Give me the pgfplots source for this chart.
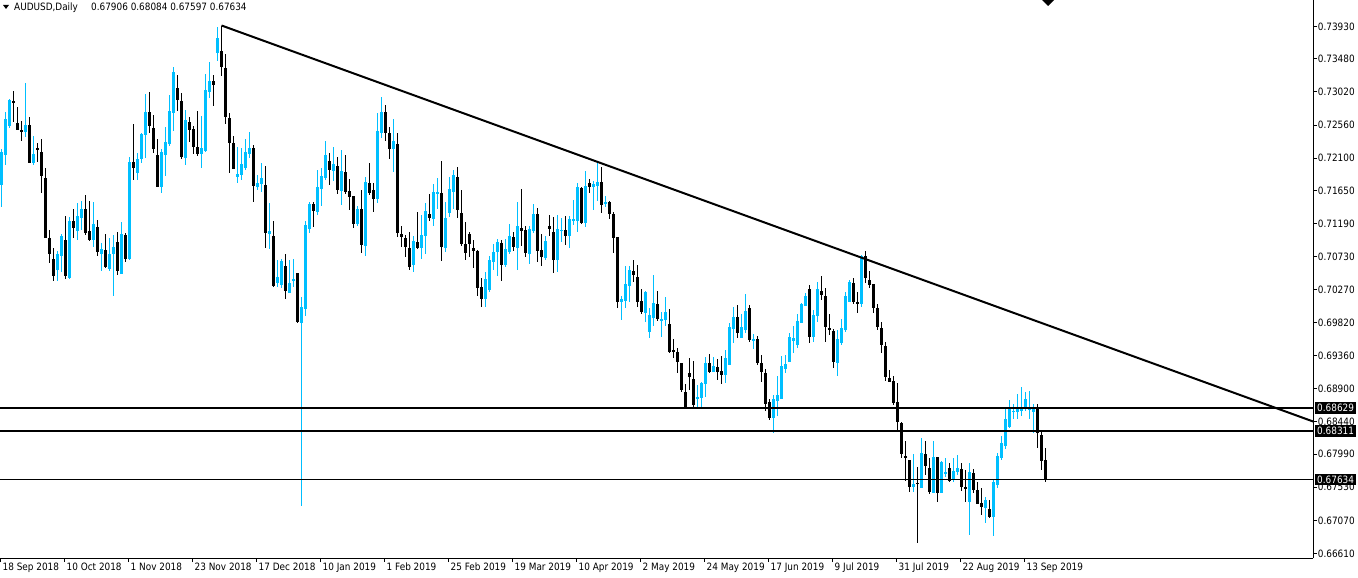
\documentclass[border=0pt]{standalone}
\usepackage{fontspec}
\setmainfont{DejaVu Sans}[FakeStretch=0.88]
\usepackage{pgfplots}
\usepackage{pgfplotstable}
\pgfplotsset{compat=1.18}

\definecolor{cblue}{RGB}{0,191,255}

% AUDUSD daily candles: index, open, high, low, close
\pgfplotstableread{
i o h l c
0 0.7173 0.7223 0.7142 0.7219
1 0.7215 0.7274 0.7201 0.7265
2 0.7255 0.7292 0.7252 0.7291
3 0.7290 0.7303 0.7260 0.7287
4 0.7259 0.7281 0.7249 0.7249
5 0.7249 0.7262 0.7234 0.7248
6 0.7246 0.7315 0.7239 0.7256
7 0.7256 0.7267 0.7203 0.7203
8 0.7203 0.7241 0.7201 0.7216
9 0.7224 0.7231 0.7205 0.7223
10 0.7219 0.7237 0.7162 0.7185
11 0.7183 0.7196 0.7099 0.7099
12 0.7099 0.7110 0.7065 0.7077
13 0.7070 0.7085 0.7040 0.7046
14 0.7055 0.7081 0.7040 0.7077
15 0.7074 0.7105 0.7052 0.7102
16 0.7096 0.7130 0.7042 0.7046
17 0.7044 0.7128 0.7042 0.7123
18 0.7123 0.7140 0.7099 0.7113
19 0.7109 0.7148 0.7096 0.7130
20 0.7127 0.7151 0.7110 0.7140
21 0.7140 0.7159 0.7103 0.7106
22 0.7109 0.7151 0.7095 0.7096
23 0.7096 0.7149 0.7087 0.7119
24 0.7114 0.7124 0.7074 0.7080
25 0.7077 0.7092 0.7053 0.7084
26 0.7083 0.7105 0.7058 0.7059
27 0.7056 0.7099 0.7053 0.7077
28 0.7077 0.7103 0.7019 0.7087
29 0.7094 0.7108 0.7048 0.7053
30 0.7049 0.7121 0.7049 0.7105
31 0.7103 0.7106 0.7066 0.7070
32 0.7070 0.7212 0.7069 0.7205
33 0.7205 0.7258 0.7180 0.7197
34 0.7190 0.7217 0.7180 0.7209
35 0.7209 0.7245 0.7203 0.7244
36 0.7242 0.7299 0.7210 0.7274
37 0.7274 0.7302 0.7245 0.7255
38 0.7252 0.7270 0.7217 0.7223
39 0.7215 0.7237 0.7170 0.7170
40 0.7170 0.7223 0.7162 0.7219
41 0.7215 0.7253 0.7185 0.7233
42 0.7230 0.7298 0.7227 0.7276
43 0.7273 0.7337 0.7248 0.7330
44 0.7308 0.7326 0.7276 0.7291
45 0.7290 0.7301 0.7209 0.7212
46 0.7210 0.7277 0.7201 0.7263
47 0.7260 0.7267 0.7233 0.7249
48 0.7251 0.7255 0.7216 0.7226
49 0.7226 0.7276 0.7213 0.7216
50 0.7216 0.7269 0.7197 0.7224
51 0.7220 0.7327 0.7219 0.7305
52 0.7302 0.7344 0.7294 0.7317
53 0.7317 0.7326 0.7283 0.7312
54 0.7356 0.7392 0.7345 0.7377
55 0.7359 0.7394 0.7324 0.7337
56 0.7335 0.7355 0.7258 0.7267
57 0.7266 0.7273 0.7190 0.7231
58 0.7231 0.7241 0.7195 0.7195
59 0.7184 0.7226 0.7176 0.7188
60 0.7187 0.7224 0.7180 0.7202
61 0.7197 0.7237 0.7194 0.7219
62 0.7216 0.7246 0.7210 0.7224
63 0.7224 0.7228 0.7149 0.7171
64 0.7170 0.7187 0.7166 0.7176
65 0.7174 0.7203 0.7163 0.7183
66 0.7173 0.7199 0.7085 0.7106
67 0.7105 0.7148 0.7084 0.7109
68 0.7102 0.7123 0.7031 0.7033
69 0.7037 0.7069 0.7031 0.7045
70 0.7034 0.7070 0.7030 0.7067
71 0.7060 0.7077 0.7015 0.7026
72 0.7023 0.7069 0.7023 0.7037
73 0.7040 0.7070 0.7031 0.7042
74 0.7051 0.7051 0.6981 0.6983
75 0.6981 0.7017 0.6727 0.7003
76 0.7001 0.7123 0.6991 0.7117
77 0.7112 0.7149 0.7106 0.7146
78 0.7146 0.7149 0.7114 0.7137
79 0.7135 0.7194 0.7131 0.7170
80 0.7167 0.7196 0.7144 0.7185
81 0.7183 0.7234 0.7180 0.7215
82 0.7206 0.7217 0.7173 0.7194
83 0.7192 0.7226 0.7178 0.7202
84 0.7199 0.7212 0.7160 0.7166
85 0.7165 0.7221 0.7145 0.7192
86 0.7191 0.7215 0.7160 0.7163
87 0.7165 0.7181 0.7138 0.7156
88 0.7158 0.7158 0.7113 0.7119
89 0.7119 0.7144 0.7116 0.7140
90 0.7140 0.7166 0.7078 0.7089
91 0.7088 0.7184 0.7074 0.7177
92 0.7176 0.7203 0.7159 0.7162
93 0.7166 0.7176 0.7135 0.7153
94 0.7153 0.7273 0.7148 0.7248
95 0.7245 0.7295 0.7238 0.7274
96 0.7274 0.7284 0.7234 0.7245
97 0.7245 0.7253 0.7209 0.7223
98 0.7223 0.7265 0.7191 0.7234
99 0.7230 0.7245 0.7101 0.7106
100 0.7105 0.7116 0.7087 0.7101
101 0.7099 0.7103 0.7073 0.7087
102 0.7085 0.7108 0.7055 0.7059
103 0.7062 0.7102 0.7052 0.7095
104 0.7094 0.7135 0.7084 0.7085
105 0.7085 0.7131 0.7070 0.7103
106 0.7102 0.7148 0.7077 0.7137
107 0.7133 0.7160 0.7123 0.7127
108 0.7126 0.7174 0.7116 0.7163
109 0.7161 0.7183 0.7140 0.7163
110 0.7162 0.7206 0.7067 0.7087
111 0.7085 0.7149 0.7080 0.7127
112 0.7134 0.7184 0.7128 0.7167
113 0.7163 0.7194 0.7140 0.7187
114 0.7184 0.7198 0.7127 0.7138
115 0.7134 0.7166 0.7088 0.7091
116 0.7091 0.7121 0.7069 0.7078
117 0.7105 0.7108 0.7073 0.7091
118 0.7085 0.7096 0.7058 0.7081
119 0.7081 0.7083 0.7019 0.7030
120 0.7031 0.7044 0.7003 0.7015
121 0.7015 0.7052 0.7003 0.7042
122 0.7027 0.7074 0.7024 0.7069
123 0.7066 0.7091 0.7055 0.7080
124 0.7080 0.7098 0.7046 0.7094
125 0.7092 0.7096 0.7040 0.7062
126 0.7062 0.7098 0.7059 0.7084
127 0.7080 0.7119 0.7077 0.7102
128 0.7101 0.7108 0.7081 0.7087
129 0.7085 0.7149 0.7055 0.7116
130 0.7113 0.7167 0.7088 0.7109
131 0.7110 0.7116 0.7073 0.7078
132 0.7077 0.7116 0.7063 0.7112
133 0.7109 0.7146 0.7106 0.7133
134 0.7133 0.7141 0.7066 0.7081
135 0.7083 0.7105 0.7060 0.7073
136 0.7071 0.7102 0.7069 0.7095
137 0.7116 0.7131 0.7102 0.7112
138 0.7108 0.7128 0.7051 0.7069
139 0.7069 0.7131 0.7052 0.7112
140 0.7109 0.7127 0.7094 0.7111
141 0.7110 0.7130 0.7089 0.7102
142 0.7102 0.7130 0.7085 0.7126
143 0.7123 0.7152 0.7117 0.7126
144 0.7123 0.7176 0.7108 0.7170
145 0.7169 0.7170 0.7119 0.7120
146 0.7120 0.7192 0.7114 0.7171
147 0.7176 0.7181 0.7162 0.7170
148 0.7170 0.7178 0.7138 0.7174
149 0.7171 0.7205 0.7151 0.7177
150 0.7177 0.7198 0.7134 0.7145
151 0.7146 0.7158 0.7142 0.7149
152 0.7149 0.7151 0.7126 0.7133
153 0.7133 0.7135 0.7078 0.7099
154 0.7101 0.7101 0.7002 0.7010
155 0.7010 0.7019 0.6985 0.7015
156 0.7012 0.7060 0.7002 0.7035
157 0.7033 0.7060 0.7010 0.7055
158 0.7053 0.7069 0.7038 0.7048
159 0.7045 0.7062 0.7003 0.7010
160 0.7012 0.7028 0.6994 0.6996
161 0.6995 0.7025 0.6983 0.7024
162 0.6969 0.7002 0.6960 0.6992
163 0.6988 0.7048 0.6977 0.7009
164 0.7008 0.7026 0.6984 0.6987
165 0.6984 0.6996 0.6962 0.6987
166 0.6985 0.7017 0.6977 0.6996
167 0.6980 0.7001 0.6940 0.6941
168 0.6944 0.6959 0.6933 0.6941
169 0.6941 0.6946 0.6912 0.6927
170 0.6926 0.6926 0.6885 0.6888
171 0.6885 0.6896 0.6862 0.6862
172 0.6912 0.6933 0.6888 0.6906
173 0.6903 0.6928 0.6862 0.6867
174 0.6877 0.6895 0.6862 0.6878
175 0.6877 0.6899 0.6862 0.6898
176 0.6896 0.6934 0.6878 0.6926
177 0.6926 0.6938 0.6912 0.6913
178 0.6913 0.6934 0.6913 0.6921
179 0.6920 0.6931 0.6902 0.6913
180 0.6915 0.6935 0.6896 0.6909
181 0.6909 0.6944 0.6898 0.6933
182 0.6923 0.6981 0.6923 0.6976
183 0.6973 0.7003 0.6953 0.6990
184 0.6990 0.7006 0.6960 0.6967
185 0.6960 0.6994 0.6960 0.6976
186 0.6971 0.7021 0.6967 0.6998
187 0.7002 0.7006 0.6955 0.6958
188 0.6956 0.6966 0.6945 0.6959
189 0.6959 0.6963 0.6923 0.6926
190 0.6926 0.6937 0.6899 0.6913
191 0.6912 0.6917 0.6859 0.6869
192 0.6871 0.6876 0.6846 0.6849
193 0.6849 0.6881 0.6828 0.6876
194 0.6873 0.6908 0.6852 0.6881
195 0.6876 0.6935 0.6876 0.6921
196 0.6917 0.6937 0.6912 0.6924
197 0.6927 0.6967 0.6927 0.6962
198 0.6956 0.6977 0.6940 0.6960
199 0.6951 0.6994 0.6947 0.6984
200 0.6981 0.7009 0.6981 0.7008
201 0.7005 0.7023 0.7005 0.7019
202 0.7028 0.7034 0.6953 0.6962
203 0.6962 0.6999 0.6955 0.6992
204 0.6991 0.7038 0.6983 0.7028
205 0.7026 0.7046 0.7013 0.7020
206 0.7019 0.7030 0.6955 0.6976
207 0.6974 0.6994 0.6965 0.6971
208 0.6970 0.6973 0.6919 0.6927
209 0.6926 0.6971 0.6908 0.6959
210 0.6953 0.6987 0.6951 0.6974
211 0.6971 0.7024 0.6969 0.7019
212 0.7010 0.7041 0.7010 0.7038
213 0.7037 0.7044 0.7008 0.7010
214 0.7010 0.7024 0.6995 0.7009
215 0.7008 0.7076 0.7003 0.7074
216 0.7074 0.7081 0.7037 0.7044
217 0.7041 0.7053 0.7030 0.7034
218 0.7035 0.7035 0.6995 0.7002
219 0.7002 0.7008 0.6971 0.6976
220 0.6974 0.6983 0.6940 0.6951
221 0.6949 0.6955 0.6901 0.6906
222 0.6905 0.6916 0.6899 0.6899
223 0.6901 0.6908 0.6867 0.6870
224 0.6871 0.6898 0.6832 0.6844
225 0.6842 0.6844 0.6794 0.6799
226 0.6796 0.6817 0.6762 0.6795
227 0.6791 0.6791 0.6746 0.6753
228 0.6753 0.6799 0.6746 0.6758
229 0.6759 0.6781 0.6676 0.6758
230 0.6752 0.6821 0.6752 0.6801
231 0.6799 0.6817 0.6770 0.6783
232 0.6780 0.6794 0.6744 0.6746
233 0.6745 0.6817 0.6745 0.6795
234 0.6795 0.6795 0.6733 0.6745
235 0.6745 0.6789 0.6745 0.6788
236 0.6773 0.6794 0.6767 0.6774
237 0.6780 0.6787 0.6760 0.6762
238 0.6763 0.6794 0.6760 0.6776
239 0.6774 0.6798 0.6770 0.6780
240 0.6778 0.6787 0.6748 0.6753
241 0.6753 0.6777 0.6733 0.6751
242 0.6733 0.6787 0.6687 0.6774
243 0.6773 0.6778 0.6745 0.6749
244 0.6749 0.6760 0.6730 0.6730
245 0.6731 0.6752 0.6714 0.6726
246 0.6724 0.6739 0.6703 0.6735
247 0.6723 0.6735 0.6710 0.6712
248 0.6712 0.6763 0.6685 0.6760
249 0.6756 0.6801 0.6752 0.6796
250 0.6794 0.6824 0.6791 0.6814
251 0.6810 0.6862 0.6806 0.6848
252 0.6837 0.6874 0.6835 0.6862
253 0.6858 0.6869 0.6848 0.6859
254 0.6857 0.6883 0.6848 0.6863
255 0.6859 0.6892 0.6852 0.6863
256 0.6862 0.6885 0.6859 0.6876
257 0.6860 0.6887 0.6848 0.6863
258 0.6858 0.6869 0.6828 0.6863
259 0.6865 0.6869 0.6808 0.6828
260 0.6826 0.6830 0.6777 0.6790
261 0.6791 0.6808 0.6760 0.6763
}\candles

\begin{document}
\begin{tikzpicture}
\useasboundingbox (0,0) rectangle (1358bp,578bp);
\begin{axis}[
  at={(0,20bp)}, anchor=south west,
  scale only axis, width=1313bp, height=558bp,
  xmin=-0.375, xmax=327.875,
  ymin=0.66547, ymax=0.74298,
  axis x line*=bottom, axis y line*=right,
  axis line style={line width=1bp, black},
  tick align=outside, major tick length=4bp,
  tick style={line width=1bp, black},
  xtick={-0.25,15.75,...,255.75},
  xticklabels={18 Sep 2018,10 Oct 2018,1 Nov 2018,23 Nov 2018,17 Dec 2018,10 Jan 2019,1 Feb 2019,25 Feb 2019,19 Mar 2019,10 Apr 2019,2 May 2019,24 May 2019,17 Jun 2019,9 Jul 2019,31 Jul 2019,22 Aug 2019,13 Sep 2019},
  ytick={0.6661,0.6707,0.6753,0.6799,0.6844,0.6890,0.6936,0.6982,0.7027,0.7073,0.7119,0.7165,0.7210,0.7256,0.7302,0.7348,0.7393},
  yticklabels={0.66610,0.67070,0.67530,0.67990,0.68440,0.68900,0.69360,0.69820,0.70270,0.70730,0.71190,0.71650,0.72100,0.72560,0.73020,0.73480,0.73930},
  scaled y ticks=false,
  tick label style={font=\fontsize{10.1bp}{12bp}\selectfont},
  xticklabel style={anchor=north west, inner sep=0pt, xshift=2bp, yshift=-1bp},
  yticklabel style={anchor=west, inner sep=0pt, xshift=0.7bp},
  candle/.style={draw=none, mark=none, forget plot,
    error bars/y dir=both, error bars/y explicit, error bars/error mark=none},
]
% wicks
\addplot[candle, error bars/error bar style={draw=cblue, line width=1.4bp, line cap=butt}]
  table[x=i, y expr={\thisrow{c}>=\thisrow{o} ? (\thisrow{h}+\thisrow{l})/2 : nan},
        y error expr={(\thisrow{h}-\thisrow{l})/2}] {\candles};
\addplot[candle, error bars/error bar style={draw=black, line width=1.4bp, line cap=butt}]
  table[x=i, y expr={\thisrow{c}<\thisrow{o} ? (\thisrow{h}+\thisrow{l})/2 : nan},
        y error expr={(\thisrow{h}-\thisrow{l})/2}] {\candles};
% bodies
\addplot[candle, error bars/error bar style={draw=cblue, line width=3bp, line cap=butt}]
  table[x=i, y expr={\thisrow{c}>=\thisrow{o} ? (\thisrow{o}+\thisrow{c})/2 : nan},
        y error expr={max(abs(\thisrow{c}-\thisrow{o})/2,0.00007)}] {\candles};
\addplot[candle, error bars/error bar style={draw=black, line width=3bp, line cap=butt}]
  table[x=i, y expr={\thisrow{c}<\thisrow{o} ? (\thisrow{o}+\thisrow{c})/2 : nan},
        y error expr={max(abs(\thisrow{c}-\thisrow{o})/2,0.00007)}] {\candles};

% support levels and current price
\addplot[black, line width=2bp] coordinates {(-1,0.68629) (330,0.68629)};
\addplot[black, line width=2bp] coordinates {(-1,0.68311) (330,0.68311)};
\addplot[black, line width=1bp] coordinates {(-1,0.67634) (330,0.67634)};
% trend line from the December high
\addplot[black, line width=2bp] coordinates {(55,0.73944) (328,0.68441)};

\coordinate (b1) at (axis cs:327.875,0.68629);
\coordinate (b2) at (axis cs:327.875,0.68311);
\coordinate (b3) at (axis cs:327.875,0.67634);
\end{axis}

\tikzset{pricebox/.style={anchor=west, fill=black, text=white, inner xsep=2bp,
  inner ysep=0pt, minimum height=11.3bp, font=\fontsize{10.1bp}{12bp}\selectfont}}
\node[pricebox] at ([xshift=2bp]b1) {0.68629};
\node[pricebox] at ([xshift=2bp]b2) {0.68311};
\node[pricebox] at ([xshift=2bp]b3) {0.67634};

% header
\fill (3bp,573bp) -- (9bp,573bp) -- (6bp,569bp) -- cycle;
\node[anchor=base west, inner sep=0pt, font=\fontsize{10.1bp}{12bp}\selectfont]
  at (14bp,567bp) {AUDUSD,Daily};
\node[anchor=base west, inner sep=0pt, font=\fontsize{10.1bp}{12bp}\selectfont]
  at (91bp,567bp) {0.67906 0.68084 0.67597 0.67634};
% chart shift marker
\fill (1042bp,578bp) -- (1054bp,578bp) -- (1048bp,572bp) -- cycle;
\end{tikzpicture}
\end{document}
